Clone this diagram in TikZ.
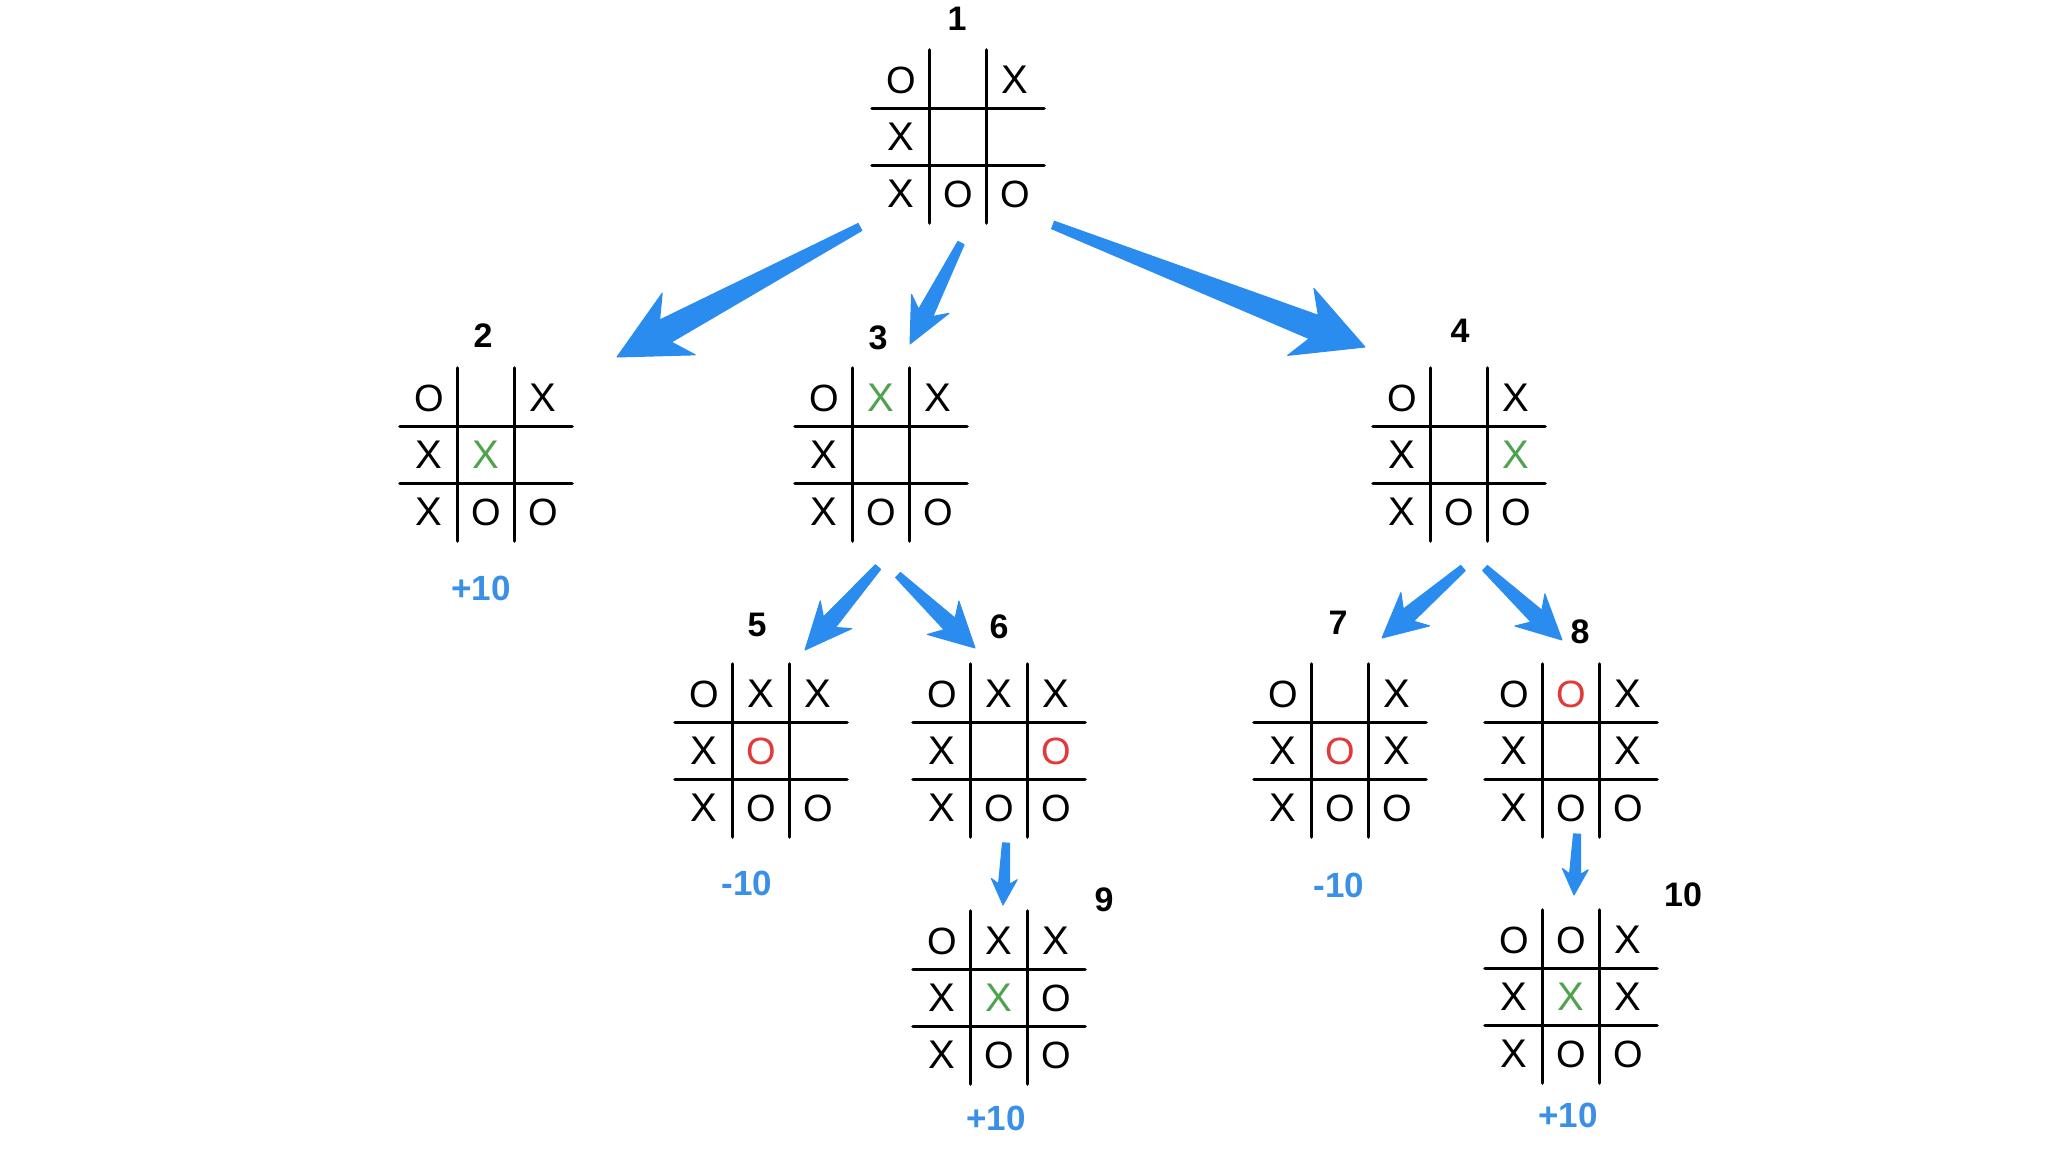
\documentclass[tikz,border=0pt]{standalone}
\usepackage{fontspec}
\setmainfont{Liberation Sans}
\usetikzlibrary{calc}
\definecolor{arrowblue}{HTML}{2B8CF0}
\definecolor{scoreblue}{HTML}{3A8FE6}
\definecolor{markgreen}{HTML}{4FA34F}
\definecolor{markred}{HTML}{E03A3A}
\tikzset{
  gridline/.style={line width=3.6pt, black, line cap=round},
  boardbox/.style={minimum size=172pt, inner sep=0pt, draw=none},
  tttmark/.style={inner sep=0pt, font=\fontsize{38}{40}\selectfont},
  lbl/.style={inner sep=0pt, font=\bfseries\fontsize{34}{36}\selectfont, text=black},
  score/.style={inner sep=0pt, font=\bfseries\fontsize{35}{38}\selectfont, text=scoreblue},
  fatfill/.style={fill=arrowblue, draw=arrowblue, line width=1pt, line join=round},
}
\newcommand\tX{{\fontsize{40}{42}\selectfont X}}
% #1 id, #2 cx, #3 cy, #4 marks list cell/text/colour
\newcommand\board[4]{%
  \begin{scope}[shift={(#2,#3)}]
    \node[boardbox] (b#1) at (0,0) {};
    \draw[gridline] (-86,-28.5) -- (86,-28.5);
    \draw[gridline] (-86,28.5) -- (86,28.5);
    \draw[gridline] (-28.5,-87) -- (-28.5,86);
    \draw[gridline] (28.5,-87) -- (28.5,86);
    \foreach \mi/\mt/\mc in {#4} {
      \pgfmathsetmacro\mx{(mod(\mi-1,3)-1)*57}
      \pgfmathsetmacro\my{(floor((\mi-1)/3)-1)*57}
      \node[tttmark, text=\mc] (b#1m\mi) at (\mx,\my) {\mt};
    }
  \end{scope}}
% #1 tail, #2 tip, #3 head length, #4 head half-width, #5 tail half-width, #6 neck half-width, #7 neck distance
\newcommand\fatarrow[7]{%
  \coordinate (hb) at ($(#2)!#3!(#1)$);
  \coordinate (nk) at ($(#2)!#7!(#1)$);
  \fill[fatfill] ($(#1)!#5!90:(#2)$) -- ($(nk)!#6!90:(#2)$) -- ($(hb)!#4!90:(#2)$)
    -- (#2) -- ($(hb)!#4!-90:(#2)$) -- ($(nk)!#6!-90:(#2)$) -- ($(#1)!#5!-90:(#2)$) -- cycle;}
\begin{document}
\begin{tikzpicture}[x=1pt, y=-1pt]
  \fill[white] (0,0) rectangle (2048,1152);
  \useasboundingbox (0,0) rectangle (2048,1152);

  \board{1}{958}{137}{1/O/black,3/\tX/black,4/\tX/black,7/\tX/black,8/O/black,9/O/black}
  \board{2}{486}{455}{1/O/black,3/\tX/black,4/\tX/black,5/\tX/markgreen,7/\tX/black,8/O/black,9/O/black}
  \board{3}{881}{455}{1/O/black,2/\tX/markgreen,3/\tX/black,4/\tX/black,7/\tX/black,8/O/black,9/O/black}
  \board{4}{1459}{455}{1/O/black,3/\tX/black,4/\tX/black,6/\tX/markgreen,7/\tX/black,8/O/black,9/O/black}
  \board{5}{761}{751}{1/O/black,2/\tX/black,3/\tX/black,4/\tX/black,5/O/markred,7/\tX/black,8/O/black,9/O/black}
  \board{6}{999}{751}{1/O/black,2/\tX/black,3/\tX/black,4/\tX/black,6/O/markred,7/\tX/black,8/O/black,9/O/black}
  \board{7}{1340}{751}{1/O/black,3/\tX/black,4/\tX/black,5/O/markred,6/\tX/black,7/\tX/black,8/O/black,9/O/black}
  \board{8}{1571}{751}{1/O/black,2/O/markred,3/\tX/black,4/\tX/black,6/\tX/black,7/\tX/black,8/O/black,9/O/black}
  \board{9}{999}{998}{1/O/black,2/\tX/black,3/\tX/black,4/\tX/black,5/\tX/markgreen,6/O/black,7/\tX/black,8/O/black,9/O/black}
  \board{10}{1571}{997}{1/O/black,2/O/black,3/\tX/black,4/\tX/black,5/\tX/markgreen,6/\tX/black,7/\tX/black,8/O/black,9/O/black}

  \node[lbl] (l1) at (957,19) {1};
  \node[lbl] (l2) at (483,336) {2};
  \node[lbl] (l3) at (878,338) {3};
  \node[lbl] (l4) at (1460,331) {4};
  \node[lbl] (l5) at (757,625) {5};
  \node[lbl] (l6) at (999,627) {6};
  \node[lbl] (l7) at (1338,623) {7};
  \node[lbl] (l8) at (1580,632) {8};
  \node[lbl] (l9) at (1104,900) {9};
  \node[lbl] (l10) at (1683,895) {10};

  \node[score] (s2) at (481,588) {+10};
  \node[score] (s5) at (747,883) {-10};
  \node[score] (s7) at (1339,885) {-10};
  \node[score] (s9) at (996,1118) {+10};
  \node[score] (s10) at (1568,1115) {+10};

  \coordinate (a12s) at (860,227);  \coordinate (a12t) at (617,357);
  \coordinate (a13s) at (961,243);  \coordinate (a13t) at (910,344);
  \coordinate (a14s) at (1053,225); \coordinate (a14t) at (1365,347);
  \coordinate (a35s) at (878,567);  \coordinate (a35t) at (805,650);
  \coordinate (a36s) at (898,575);  \coordinate (a36t) at (975,648);
  \coordinate (a47s) at (1463,568); \coordinate (a47t) at (1382,638);
  \coordinate (a48s) at (1485,568); \coordinate (a48t) at (1562,640);
  \coordinate (a69s) at (1006,843); \coordinate (a69t) at (1003,905);
  \coordinate (a810s) at (1577,834); \coordinate (a810t) at (1574,895);

  \fatarrow{a12s}{a12t}{70pt}{35pt}{4pt}{12.5pt}{55pt}
  \fatarrow{a13s}{a13t}{45pt}{21pt}{3.5pt}{8pt}{35pt}
  \fatarrow{a14s}{a14t}{69pt}{36pt}{4pt}{12.5pt}{55pt}
  \fatarrow{a35s}{a35t}{47pt}{21pt}{3.5pt}{8pt}{37pt}
  \fatarrow{a36s}{a36t}{44pt}{23pt}{3.5pt}{8pt}{35pt}
  \fatarrow{a47s}{a47t}{44pt}{22pt}{3.5pt}{8pt}{35pt}
  \fatarrow{a48s}{a48t}{44pt}{22pt}{3.5pt}{8pt}{35pt}
  \fatarrow{a69s}{a69t}{26pt}{13pt}{3.5pt}{5.5pt}{21pt}
  \fatarrow{a810s}{a810t}{26pt}{13pt}{3.5pt}{5.5pt}{21pt}
\end{tikzpicture}
\end{document}
